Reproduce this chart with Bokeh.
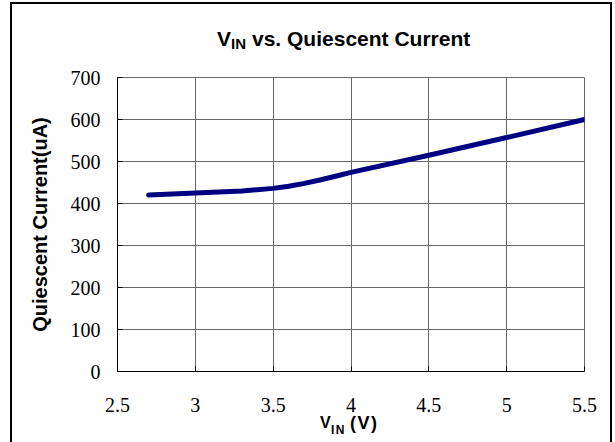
from bokeh.plotting import figure
from bokeh.models import Range1d, FixedTicker, Div
from bokeh.layouts import column
from bokeh.embed import file_html
from bokeh.resources import INLINE

# ---- data ----
vin = [2.7, 3.0, 3.3, 3.5, 3.6, 3.7, 3.8, 3.9, 4.0, 4.5, 5.0, 5.5]
iq = [420, 425, 430, 436, 441, 448, 456, 465, 474, 515, 557, 600]
x_ticks = [2.5, 3.0, 3.5, 4.0, 4.5, 5.0, 5.5]
x_tick_labels = ["2.5", "3", "3.5", "4", "4.5", "5", "5.5"]
y_ticks = [0, 100, 200, 300, 400, 500, 600, 700]
y_tick_labels = ["0", "100", "200", "300", "400", "500", "600", "700"]
title_main = "vs. Quiescent Current"
sym_main, sym_sub = "V", "IN"
x_unit = "(V)"
y_title = "Quiescent Current(uA)"

SANS = "'Liberation Sans', Arial, sans-serif"

p = figure(frame_width=467, frame_height=294, output_backend="svg", toolbar_location=None,
           x_range=Range1d(2.5, 5.5), y_range=Range1d(0, 700),
           min_border_left=117, min_border_right=31, min_border_top=17, min_border_bottom=49,
           background_fill_color="white", border_fill_color=None)
p.title = None
p.outline_line_color = "#666666"
p.outline_line_width = 1

for ax, ticks, labels in ((p.xaxis[0], x_ticks, x_tick_labels), (p.yaxis[0], y_ticks, y_tick_labels)):
    ax.ticker = FixedTicker(ticks=ticks)
    ax.major_label_overrides = {t: l for t, l in zip(ticks, labels)}
    ax.minor_tick_line_color = None
    ax.major_tick_in = 5
    ax.major_tick_out = 0
    ax.axis_line_color = "black"
    ax.major_tick_line_color = "black"
    ax.major_label_text_font = "Liberation Serif"
    ax.major_label_text_font_size = "20px"
    ax.major_label_text_color = "black"

p.yaxis[0].major_label_standoff = 17
p.xaxis[0].major_label_standoff = 26
p.yaxis[0].axis_label = y_title
p.yaxis[0].axis_label_text_font = "Liberation Sans"
p.yaxis[0].axis_label_text_font_style = "bold"
p.yaxis[0].axis_label_text_font_size = "20px"
p.yaxis[0].axis_label_text_color = "black"
p.yaxis[0].axis_label_standoff = 17

p.xgrid.grid_line_color = "#666666"
p.ygrid.grid_line_color = "#666666"
p.xgrid.ticker = FixedTicker(ticks=x_ticks)
p.ygrid.ticker = FixedTicker(ticks=y_ticks)

p.line(vin, iq, line_color="#000080", line_width=5, line_cap="round", line_join="round")

title_html = (
    f'<div style="position:relative;width:615px;height:60px;font-family:{SANS};'
    'font-weight:bold;color:black;line-height:1;white-space:nowrap">'
    f'<span style="position:absolute;left:217px;top:28px;font-size:21px">{sym_main}</span>'
    f'<span style="position:absolute;left:231px;top:36px;font-size:15px">{sym_sub}</span>'
    f'<span style="position:absolute;left:252px;top:28px;font-size:21px">{title_main}</span>'
    '</div>'
)
xlabel_html = (
    f'<div style="position:relative;width:615px;height:22px;font-family:{SANS};'
    'font-weight:bold;color:black;line-height:1;white-space:nowrap">'
    f'<span style="position:absolute;left:320px;top:-5px;font-size:16px;letter-spacing:0.5px">{sym_main}</span>'
    f'<span style="position:absolute;left:331px;top:4px;font-size:12px;letter-spacing:1.5px">{sym_sub}</span>'
    f'<span style="position:absolute;left:350px;top:-6px;font-size:18px;letter-spacing:1.5px">{x_unit}</span>'
    '</div>'
)

title_div = Div(text=title_html, width=615, height=60, margin=0, styles={"overflow": "visible"})
xlabel_div = Div(text=xlabel_html, width=615, height=22, margin=0, styles={"overflow": "visible"})

# outer picture frame: left, top and right edges (bottom edge lies outside the picture)
g = "linear-gradient(#000, #000)"
layout = column(title_div, p, xlabel_div, spacing=0, margin=0,
                styles={"background-color": "white",
                        "background-image": f"{g}, {g}, {g}",
                        "background-position": "10px 2px, 10px 2px, 610px 2px",
                        "background-size": "2px 460px, 602px 2px, 2px 460px",
                        "background-repeat": "no-repeat"})

open("out.html", "w").write(file_html(layout, INLINE))
